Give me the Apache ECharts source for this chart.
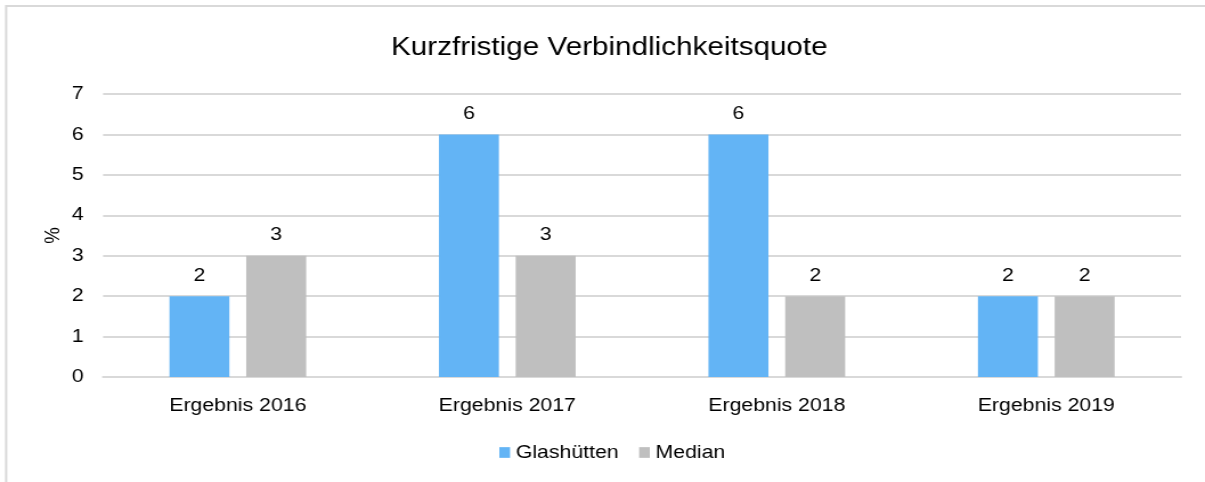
<!DOCTYPE html>
<html>
<head>
<meta charset="utf-8">
<script src="https://cdn.jsdelivr.net/npm/echarts@6/dist/echarts.min.js"></script>
<style>
  html, body { margin: 0; padding: 0; background: #fff; overflow: hidden; width: 1205px; height: 482px; }
  /* The chart is laid out on a narrower canvas and widened horizontally. */
  #chart { width: 1057px; height: 482px; transform: scaleX(1.14); transform-origin: 0 0; }
</style>
</head>
<body>
<div id="chart"></div>
<script>
const categories = ['Ergebnis 2016', 'Ergebnis 2017', 'Ergebnis 2018', 'Ergebnis 2019'];
const glashuetten = [2, 6, 6, 2];
const median = [3, 3, 2, 2];
const yTicks = [0, 1, 2, 3, 4, 5, 6, 7];

const font = '"Liberation Sans", Arial, sans-serif';
const textSize = 18.67;
const chart = echarts.init(document.getElementById('chart'));

const labelStyle = {
  show: true,
  position: 'top',
  distance: 11,
  color: '#000',
  fontSize: textSize,
  fontFamily: font
};

chart.setOption({
  animation: false,
  textStyle: { fontFamily: font },
  title: {
    text: 'Kurzfristige Verbindlichkeitsquote',
    left: 338,
    top: 30,
    textStyle: { fontSize: 26, fontWeight: 'normal', color: '#000', fontFamily: font }
  },
  graphic: [{
    type: 'rect',
    shape: { x: 5.4, y: 6, width: 1200, height: 520 },
    style: { fill: 'none', stroke: '#D9D9D9', lineWidth: 2 },
    silent: true
  }],
  legend: {
    bottom: 15,
    left: 433,
    itemWidth: 9.4,
    itemHeight: 10.7,
    itemGap: 18,
    icon: 'rect',
    textStyle: { fontSize: textSize, color: '#000', fontFamily: font },
    data: ['Glashütten', 'Median']
  },
  grid: { left: 90.4, right: 21, top: 94, bottom: 105 },
  xAxis: {
    type: 'category',
    data: categories,
    axisTick: { show: false },
    axisLine: { lineStyle: { color: '#D9D9D9', width: 2 } },
    axisLabel: { color: '#000', fontSize: textSize, margin: 19, fontFamily: font }
  },
  yAxis: {
    type: 'value',
    min: yTicks[0],
    max: yTicks[yTicks.length - 1],
    interval: 1,
    name: '%',
    nameLocation: 'middle',
    nameGap: 34,
    nameRotate: 90,
    nameMoveOverlap: false,
    nameTextStyle: { color: '#000', fontSize: textSize, fontFamily: font },
    axisLine: { show: false },
    axisTick: { show: false },
    axisLabel: { color: '#000', fontSize: textSize, margin: 17, padding: [6, 0, 0, 0], fontFamily: font },
    splitLine: { lineStyle: { color: '#D9D9D9', width: 2 } }
  },
  series: [
    {
      name: 'Glashütten',
      type: 'bar',
      data: glashuetten,
      barWidth: 52.6,
      barGap: '28%',
      itemStyle: { color: '#63B4F5' },
      label: labelStyle
    },
    {
      name: 'Median',
      type: 'bar',
      data: median,
      barWidth: 52.6,
      itemStyle: { color: '#BFBFBF' },
      label: labelStyle
    }
  ]
});
</script>
</body>
</html>
